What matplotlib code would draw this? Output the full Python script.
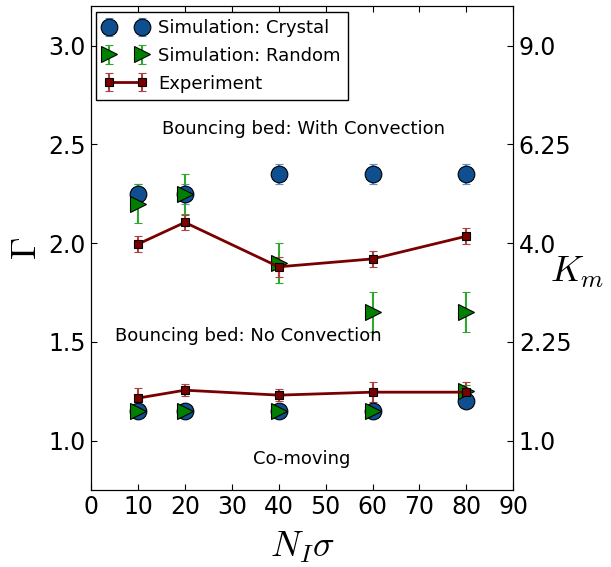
import matplotlib
matplotlib.use("Agg")
import matplotlib.pyplot as plt

plt.rcParams["mathtext.fontset"] = "cm"

# data
n_sigma = [10, 20, 40, 60, 80]

crystal_conv = [2.25, 2.25, 2.35, 2.35, 2.35]
crystal_conv_err = [0.05, 0.05, 0.05, 0.05, 0.05]
crystal_comov = [1.15, 1.15, 1.15, 1.15, 1.20]
crystal_comov_err = [0.03, 0.03, 0.03, 0.03, 0.03]

random_conv = [2.20, 2.25, 1.90, 1.65, 1.65]
random_conv_err = [0.10, 0.10, 0.10, 0.10, 0.10]
random_comov = [1.15, 1.15, 1.15, 1.15, 1.25]
random_comov_err = [0.03, 0.03, 0.03, 0.03, 0.03]

exp_conv = [1.995, 2.105, 1.88, 1.92, 2.035]
exp_conv_err = [0.04, 0.04, 0.05, 0.04, 0.04]
exp_comov = [1.215, 1.255, 1.23, 1.245, 1.245]
exp_comov_err = [0.05, 0.03, 0.03, 0.05, 0.05]

gamma_ticks = [1.0, 1.5, 2.0, 2.5, 3.0]
km_labels = ["1.0", "2.25", "4.0", "6.25", "9.0"]

blue = "#0f4f8f"
green = "#008000"
red = "#7a0000"

fig = plt.figure(figsize=(6.11, 5.67), dpi=100)
ax = fig.add_axes([0.149, 0.136, 0.691, 0.853])

# crystal simulation
ax.errorbar(n_sigma, crystal_conv, yerr=crystal_conv_err, fmt="o", color=blue,
            ecolor="#5a8fd0", markersize=12, markeredgecolor="k", markeredgewidth=0.8,
            capsize=3, elinewidth=1.5, label="Simulation: Crystal")
ax.errorbar(n_sigma, crystal_comov, yerr=crystal_comov_err, fmt="o", color=blue,
            ecolor="#5a8fd0", markersize=12, markeredgecolor="k", markeredgewidth=0.8,
            capsize=3, elinewidth=1.5)

# random simulation
ax.errorbar(n_sigma, random_conv, yerr=random_conv_err, fmt=">", color=green,
            ecolor="#30a830", markersize=12, markeredgecolor="k", markeredgewidth=0.8,
            capsize=3, elinewidth=1.5, label="Simulation: Random")
ax.errorbar(n_sigma, random_comov, yerr=random_comov_err, fmt=">", color=green,
            ecolor="#30a830", markersize=12, markeredgecolor="k", markeredgewidth=0.8,
            capsize=3, elinewidth=1.5)

# experiment
ax.errorbar(n_sigma, exp_conv, yerr=exp_conv_err, fmt="s-", color=red,
            ecolor="#b04040", markersize=5.5, markeredgecolor="k", markeredgewidth=0.8,
            capsize=3, elinewidth=1.5, linewidth=2, label="Experiment")
ax.errorbar(n_sigma, exp_comov, yerr=exp_comov_err, fmt="s-", color=red,
            ecolor="#b04040", markersize=5.5, markeredgecolor="k", markeredgewidth=0.8,
            capsize=3, elinewidth=1.5, linewidth=2)

ax.text(45.2, 2.576, "Bouncing bed: With Convection", fontsize=13, ha="center", va="center")
ax.text(33.5, 1.53, "Bouncing bed: No Convection", fontsize=13, ha="center", va="center")
ax.text(44.8, 0.905, "Co-moving", fontsize=13, ha="center", va="center")

ax.set_xlim(0, 90)
ax.set_ylim(0.75, 3.2)
ax.set_xticks(range(0, 91, 10))
ax.set_yticks(gamma_ticks)
ax.tick_params(direction="in", labelsize=17, top=True, length=4, pad=4)
ax.set_xlabel(r"$N_I\sigma$", fontsize=26, va="center")
ax.set_ylabel(r"$\Gamma$", fontsize=26, va="center", ha="center")
ax.xaxis.set_label_coords(0.5, -0.12)
ax.yaxis.set_label_coords(-0.154, 0.5)

ax2 = ax.twinx()
ax2.set_ylim(ax.get_ylim())
ax2.set_yticks(gamma_ticks)
ax2.set_yticklabels(km_labels)
ax2.tick_params(direction="in", labelsize=17, length=4, pad=4)
ax2.set_ylabel(r"$K_m$", fontsize=26, rotation=0, va="center", ha="center")
ax2.yaxis.set_label_coords(1.152, 0.45)

leg = ax.legend(loc="upper left", numpoints=2, fontsize=13, fancybox=False,
                framealpha=1, edgecolor="k", borderaxespad=0.3, handletextpad=0.6,
                handlelength=2.4, labelspacing=0.55)
leg.get_frame().set_linewidth(1)

fig.savefig("out.png", dpi=100)
